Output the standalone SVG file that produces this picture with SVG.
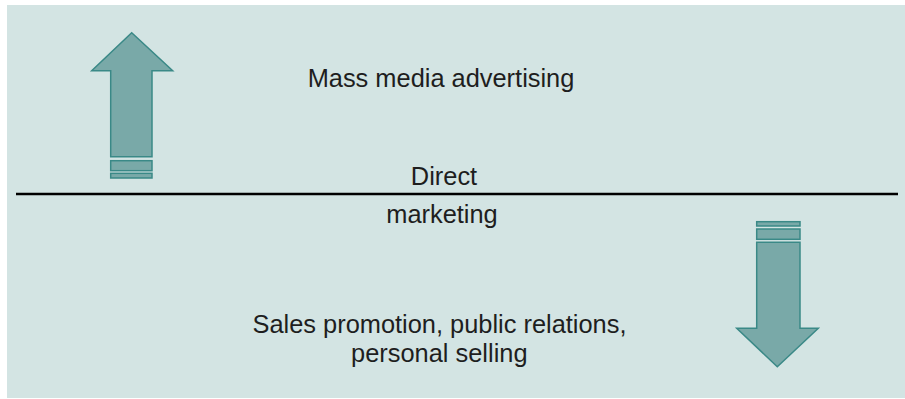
<svg xmlns="http://www.w3.org/2000/svg" width="905" height="399" viewBox="0 0 905 399">
<style>
.arrow{fill:#79a9a8;stroke:#3a8987;stroke-width:1.5;stroke-linejoin:miter}
.t{font-family:"Liberation Sans",Arial,sans-serif;font-size:25.4px;fill:#1e1e1e;text-anchor:middle}
</style>
<rect x="0" y="0" width="905" height="399" fill="#ffffff"/>
<rect x="7" y="5" width="898" height="393" fill="#d3e4e3"/>
<g id="up-arrow">
<polygon class="arrow" points="131.7,32.7 172.7,70.7 152,70.7 152,156.7 110.7,156.7 110.7,70.7 91.7,70.7"/>
<rect class="arrow" x="110.7" y="160.7" width="41.3" height="10"/>
<rect class="arrow" x="110.7" y="173.3" width="41.3" height="4.7"/>
</g>
<g id="down-arrow">
<rect class="arrow" x="756.7" y="221.7" width="43.3" height="4.3"/>
<rect class="arrow" x="756.7" y="229" width="43.3" height="10.3"/>
<polygon class="arrow" points="756.7,242.3 800,242.3 800,328.3 818.3,328.3 777.3,366.7 736.7,328.3 756.7,328.3"/>
</g>
<g id="connectors">
<line x1="16" y1="194" x2="898" y2="194" stroke="#000" stroke-width="2.6"/>
</g>
<g id="labels">
<text class="t" x="441" y="87">Mass media advertising</text>
<text class="t" x="444" y="185" font-size="24.5">Direct</text>
<text class="t" x="442" y="223" font-size="24.5">marketing</text>
<text class="t" x="439.5" y="333">Sales promotion, public relations,</text>
<text class="t" x="439.3" y="362">personal selling</text>
</g>
</svg>
